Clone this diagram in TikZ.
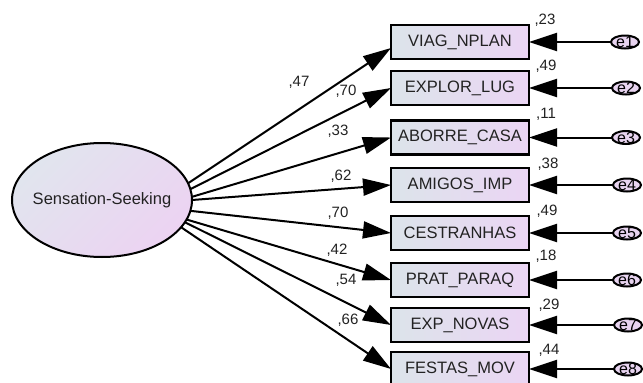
\documentclass[tikz,border=0pt]{standalone}
\usepackage{fontspec}
\setmainfont{Liberation Sans}
\usetikzlibrary{arrows.meta,shapes.geometric}

\definecolor{inkgray}{HTML}{222222}
\definecolor{boxleft}{HTML}{DCE4EA}
\definecolor{boxright}{HTML}{EBD5F4}
\definecolor{latleft}{HTML}{E1E5EE}
\definecolor{latright}{HTML}{ECD3F2}
\definecolor{errfill}{HTML}{E8D4F0}

\tikzset{
  obsvar/.style={draw=black, line width=2.4pt, minimum width=138pt, minimum height=34pt,
    inner sep=0pt, outer sep=0pt, left color=boxleft, right color=boxright,
    text=inkgray, font=\fontsize{16.5}{18}\selectfont},
  latvar/.style={ellipse, draw=black, line width=2pt, minimum width=180pt, minimum height=114pt,
    inner sep=0pt, outer sep=0pt, top color=latleft, bottom color=latright, shading angle=45,
    text=inkgray, font=\fontsize{16.5}{18}\selectfont},
  errvar/.style={ellipse, draw=black, line width=2pt, minimum width=28pt, minimum height=13pt,
    inner sep=0pt, outer sep=0pt, fill=errfill},
  errtext/.style={text=black, font=\fontsize{16}{16}\selectfont, inner sep=0pt},
  coef/.style={text=inkgray, font=\fontsize{15}{16}\selectfont, inner sep=0pt},
  loading/.style={draw=black, line width=2pt, -{Triangle[length=28pt,width=17pt]}},
  errpath/.style={draw=black, line width=2pt, -{Triangle[length=28pt,width=18pt]}},
}

\begin{document}
\begin{tikzpicture}[x=1pt, y=-1pt]
  \clip (0,0) rectangle (643,383);

  % latent factor
  \node[latvar] (ss) at (102,200) {\makebox[0pt]{Sensation-Seeking}};

  % observed indicators
  \node[obsvar] (b1) at (460,42)    {VIAG\_NPLAN};
  \node[obsvar] (b2) at (460,88)    {EXPLOR\_LUG};
  \node[obsvar] (b3) at (460,137.5) {ABORRE\_CASA};
  \node[obsvar] (b4) at (460,185)   {AMIGOS\_IMP};
  \node[obsvar] (b5) at (460,233)   {CESTRANHAS};
  \node[obsvar] (b6) at (460,280)   {PRAT\_PARAQ};
  \node[obsvar] (b7) at (460,325)   {EXP\_NOVAS};
  \node[obsvar] (b8) at (460,369)   {FESTAS\_MOV};

  % error terms
  \node[errvar, label={[errtext]center:e1}] (e1) at (625,42)    {};
  \node[errvar, label={[errtext]center:e2}] (e2) at (626,88)    {};
  \node[errvar, label={[errtext]center:e3}] (e3) at (626,137.5) {};
  \node[errvar, label={[errtext]center:e4}] (e4) at (627,185)   {};
  \node[errvar, label={[errtext]center:e5}] (e5) at (627,233)   {};
  \node[errvar, label={[errtext]center:e6}] (e6) at (627,280)   {};
  \node[errvar, label={[errtext]center:e7}] (e7) at (628,325)   {};
  \node[errvar, label={[errtext]center:e8}] (e8) at (628,369)   {};

  % factor loadings
  \draw[loading] (ss.11.9)  -- ([yshift=-6pt]b1.west);
  \draw[loading] (ss.7.8)   -- (b2.west);
  \draw[loading] (ss.2.8)   -- (b3.west);
  \draw[loading] (ss.-0.8)  -- (b4.west);
  \draw[loading] (ss.-7)    -- (b5.west);
  \draw[loading] (ss.-13.3) -- (b6.west);
  \draw[loading] (ss.-15.6) -- (b7.west);
  \draw[loading] (ss.-19.2) -- (b8.west);

  % error paths
  \foreach \i in {1,...,8} {
    \draw[errpath] (e\i.west) -- (b\i.east);
  }

  % standardized loadings
  \node[coef] (l1) at (299,82)  {,47};
  \node[coef] (l2) at (346,91)  {,70};
  \node[coef] (l3) at (338,131) {,33};
  \node[coef] (l4) at (341,176) {,62};
  \node[coef] (l5) at (338,213) {,70};
  \node[coef] (l6) at (337,250) {,42};
  \node[coef] (l7) at (346,280) {,54};
  \node[coef] (l8) at (348,320) {,66};

  % squared multiple correlations
  \node[coef] (r1) at ([shift={(16,-5)}]b1.north east) {,23};
  \node[coef] (r2) at ([shift={(17,-5)}]b2.north east) {,49};
  \node[coef] (r3) at ([shift={(17,-6)}]b3.north east) {,11};
  \node[coef] (r4) at ([shift={(19,-4)}]b4.north east) {,38};
  \node[coef] (r5) at ([shift={(18,-5)}]b5.north east) {,49};
  \node[coef] (r6) at ([shift={(17,-7)}]b6.north east) {,18};
  \node[coef] (r7) at ([shift={(20,-3)}]b7.north east) {,29};
  \node[coef] (r8) at ([shift={(20,-2)}]b8.north east) {,44};
\end{tikzpicture}
\end{document}
